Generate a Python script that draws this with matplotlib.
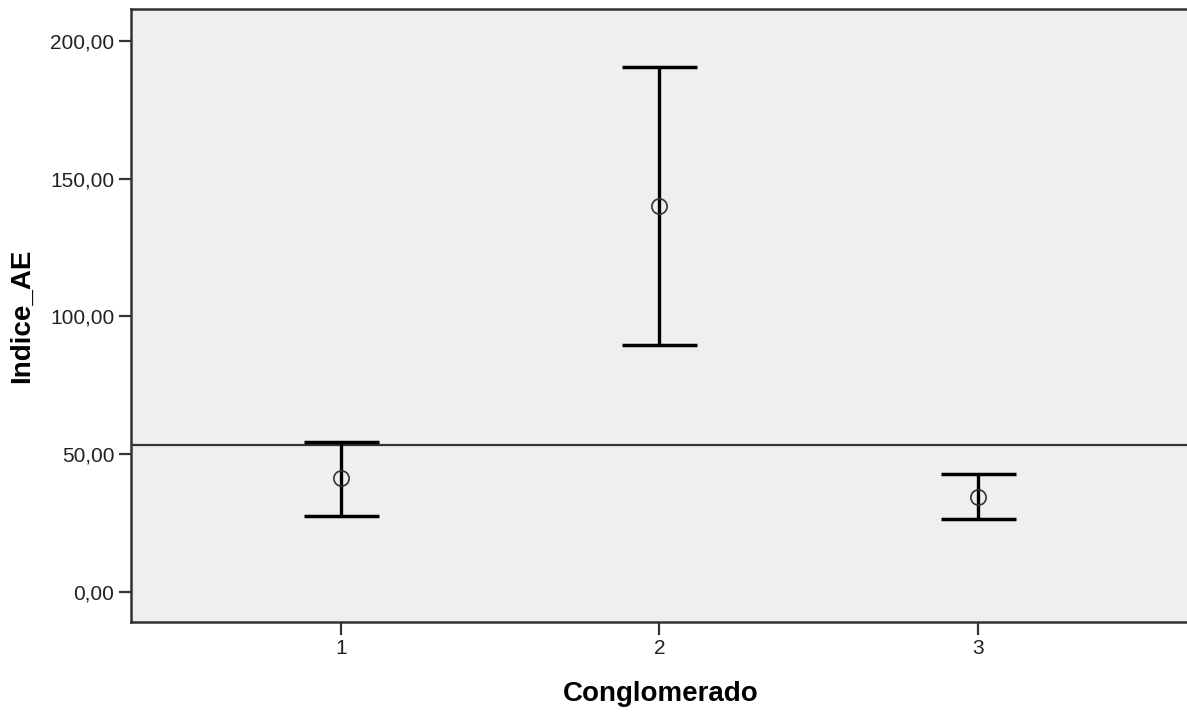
import matplotlib.pyplot as plt
from matplotlib.ticker import FuncFormatter

# values
clusters = [1, 2, 3]
means = [41.2, 140.1, 34.5]
upper = [54.3, 190.7, 42.8]
lower = [27.6, 89.5, 26.4]
ref_value = 53.4
y_ticks = [0, 50, 100, 150, 200]

plt.rcParams['font.family'] = ['Liberation Sans', 'DejaVu Sans']

fig = plt.figure(figsize=(11.87, 7.12), dpi=100)
ax = fig.add_axes([131 / 1187, 90 / 712, 1060 / 1187, 613 / 712])
ax.set_facecolor('#efefef')

err_low = [m - l for m, l in zip(means, lower)]
err_up = [u - m for m, u in zip(means, upper)]

# reference line
ax.axhline(ref_value, color='#333333', linewidth=1.6, zorder=2)

ax.errorbar(clusters, means, yerr=[err_low, err_up], fmt='none',
            ecolor='black', elinewidth=2.4, capsize=27, capthick=2.5, zorder=3)
ax.plot(clusters, means, linestyle='none', marker='o', markersize=11,
        markerfacecolor='none', markeredgecolor='#333333',
        markeredgewidth=1.2, zorder=4)

ax.set_xlim(0.34, 3.67)
ax.set_ylim(-10.9, 211.6)
ax.set_xticks(clusters)
ax.set_xticklabels([str(c) for c in clusters])
ax.set_yticks(y_ticks)
ax.yaxis.set_major_formatter(FuncFormatter(lambda v, p: f'{v:.2f}'.replace('.', ',')))

for side in ['left', 'bottom', 'top']:
    ax.spines[side].set_color('#333333')
    ax.spines[side].set_linewidth(1.8)
ax.spines['right'].set_visible(False)

ax.tick_params(axis='both', length=9, width=1.6, color='#333333',
               labelsize=15, labelcolor='#222222', pad=3)

ax.set_xlabel('Conglomerado', fontsize=20, fontweight='bold', labelpad=17)
ax.set_ylabel('Indice_AE', fontsize=20, fontweight='bold', labelpad=11)

fig.savefig('out.png', dpi=100)
plt.close(fig)
